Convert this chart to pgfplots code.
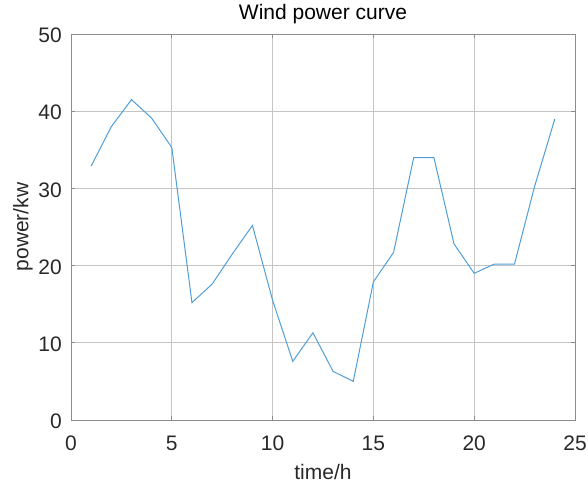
\documentclass[border=0pt]{standalone}
\usepackage{fontspec}
\setmainfont{Liberation Sans}
\usepackage{pgfplots}
\pgfplotsset{compat=1.18}
\definecolor{mblue}{RGB}{80,158,216}
\definecolor{gridc}{RGB}{196,196,196}
\definecolor{axc}{RGB}{140,140,140}
\definecolor{txtc}{RGB}{40,40,40}
\begin{document}
\begin{tikzpicture}
\useasboundingbox (-71pt,-66pt) rectangle (517pt,420pt);
\begin{axis}[
  at={(0pt,0pt)}, anchor=south west,
  width=504pt, height=386pt, scale only axis,
  xmin=0, xmax=25, ymin=0, ymax=50,
  xtick={0,5,...,25}, ytick={0,10,...,50},
  grid=major,
  major grid style={draw=gridc, line width=0.8pt},
  axis line style={draw=axc, line width=0.9pt},
  tick style={draw=axc, line width=0.8pt},
  tick align=inside,
  major tick length=4pt,
  tick label style={font=\fontsize{21}{24}\selectfont, text=txtc, inner sep=0pt},
  /pgf/number format/assume math mode=true,
  xticklabel style={anchor=north, yshift=-16pt},
  yticklabel style={anchor=east, xshift=-9pt, yshift=-1.5pt},
  title={Wind power curve},
  title style={font=\fontsize{21}{24}\selectfont, text=black, inner sep=0pt,
    at={(axis description cs:0.5,1.036)}, anchor=center},
  xlabel={time/h},
  ylabel={power/kw},
  label style={font=\fontsize{21}{24}\selectfont, text=txtc, inner sep=0pt},
  xlabel style={at={(axis description cs:0.5,-0.1347)}, anchor=center},
  ylabel style={at={(axis description cs:-0.0952,0.5)}, anchor=center, rotate=0},
]
\addplot[mblue, line width=1pt] coordinates {
(1,32.9) (2,38.0) (3,41.5) (4,39.1) (5,35.3) (6,15.2) (7,17.6) (8,21.5)
(9,25.2) (10,15.5) (11,7.6) (12,11.3) (13,6.3) (14,5.0) (15,17.9) (16,21.7)
(17,34.0) (18,34.0) (19,22.8) (20,19.0) (21,20.2) (22,20.2) (23,30.3) (24,39.0)
};
\end{axis}
\end{tikzpicture}
\end{document}
